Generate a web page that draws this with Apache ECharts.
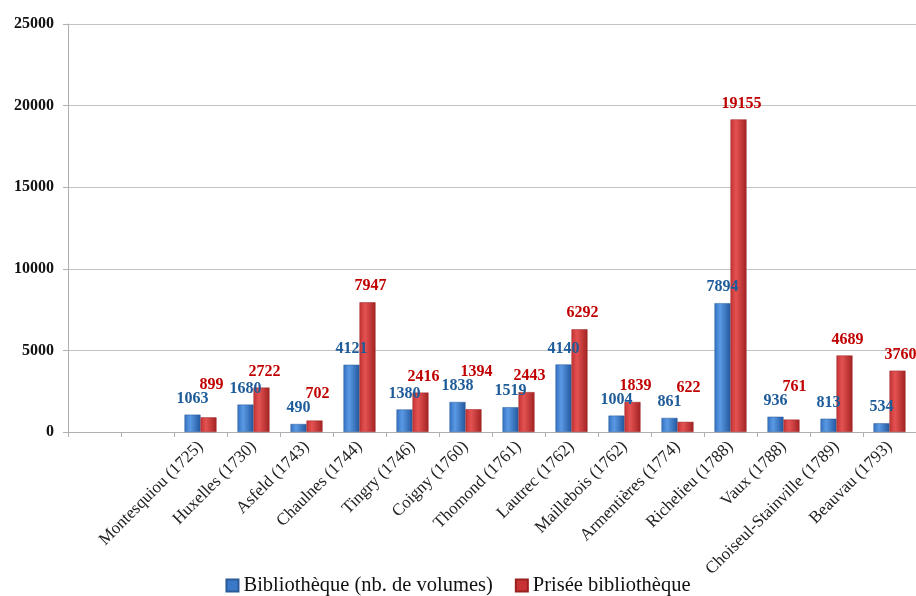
<!DOCTYPE html>
<html>
<head>
<meta charset="utf-8">
<script src="https://cdn.jsdelivr.net/npm/echarts@6/dist/echarts.min.js"></script>
<style>
html,body{margin:0;padding:0;background:#fff;}
#chart{width:916px;height:596px;}
</style>
</head>
<body>
<div id="chart"></div>
<script>
var categories = ['', '', 'Montesquiou (1725)', 'Huxelles (1730)', 'Asfeld (1743)', 'Chaulnes (1744)', 'Tingry (1746)', 'Coigny (1760)', 'Thomond (1761)', 'Lautrec (1762)', 'Maillebois (1762)', 'Armentières (1774)', 'Richelieu (1788)', 'Vaux (1788)', 'Choiseul-Stainville (1789)', 'Beauvau (1793)'];
var volumes = [null, null, 1063, 1680, 490, 4121, 1380, 1838, 1519, 4140, 1004, 861, 7894, 936, 813, 534];
var prisee = [null, null, 899, 2722, 702, 7947, 2416, 1394, 2443, 6292, 1839, 622, 19155, 761, 4689, 3760];
var yTicks = [0, 5000, 10000, 15000, 20000, 25000];

var serif = '"Liberation Serif", "DejaVu Serif", serif';
function grad(c1, c2, c3) {
  return new echarts.graphic.LinearGradient(0, 0, 1, 0, [
    {offset: 0, color: c1}, {offset: 0.35, color: c2}, {offset: 1, color: c3}
  ]);
}
var chart = echarts.init(document.getElementById('chart'), null, {renderer: 'canvas'});
var option = {
  animation: false,
  backgroundColor: '#ffffff',
  grid: {left: 68, top: 24, bottom: 164, right: -10, containLabel: false},
  legend: {
    bottom: -5, left: 'center', itemWidth: 12, itemHeight: 12, itemGap: 22,
    textStyle: {fontFamily: serif, fontSize: 20.5, color: '#111'},
    data: [
      {name: 'Bibliothèque (nb. de volumes)', icon: 'rect', itemStyle: {color: '#3a78c8'}},
      {name: 'Prisée bibliothèque', icon: 'rect', itemStyle: {color: '#c83232'}}
    ]
  },
  xAxis: {
    type: 'category', data: categories,
    axisLine: {lineStyle: {color: '#b0b0b0', width: 1}},
    axisTick: {show: true, length: 5, lineStyle: {color: '#b0b0b0'}},
    axisLabel: {rotate: 45, interval: 0, margin: 12, fontFamily: serif, fontSize: 17, color: '#222'}
  },
  yAxis: {
    type: 'value', min: yTicks[0], max: yTicks[yTicks.length - 1], interval: 5000,
    axisLine: {show: true, lineStyle: {color: '#b0b0b0'}},
    axisTick: {show: true, length: 5, lineStyle: {color: '#b0b0b0'}},
    splitLine: {lineStyle: {color: '#c4c4c4', width: 1}},
    axisLabel: {margin: 14, fontFamily: serif, fontSize: 16, fontWeight: 'bold', color: '#111',
      formatter: function (v) { return String(v); }}
  },
  series: [
    {
      name: 'Bibliothèque (nb. de volumes)', type: 'bar', data: volumes,
      barWidth: 16, barGap: '0%',
      itemStyle: {color: grad('#3470c0', '#5a9ae4', '#22579e'), borderColor: '#2a5a98', borderWidth: 0.5},
      label: {show: true, position: 'top', distance: 8, fontFamily: serif, fontSize: 16, fontWeight: 'bold', color: '#1d5b99'}
    },
    {
      name: 'Prisée bibliothèque', type: 'bar', data: prisee,
      barWidth: 16,
      itemStyle: {color: grad('#c43434', '#e45252', '#a22222'), borderColor: '#9a2020', borderWidth: 0.5},
      label: {show: true, position: 'top', distance: 8, offset: [3, 0], fontFamily: serif, fontSize: 16, fontWeight: 'bold', color: '#c00000'}
    }
  ]
};
chart.setOption(option);

// lift red labels when they would collide with the blue labels
var redData = prisee.map(function (v, i) {
  if (v == null || volumes[i] == null) return v;
  var blueTop = chart.convertToPixel({gridIndex: 0}, [i, volumes[i]])[1];
  var redTop = chart.convertToPixel({gridIndex: 0}, [i, v])[1];
  var dy = Math.min(0, blueTop - redTop - 14);
  return {value: v, label: {offset: [3, dy]}};
});
chart.setOption({series: [{}, {data: redData}]});
</script>
</body>
</html>
